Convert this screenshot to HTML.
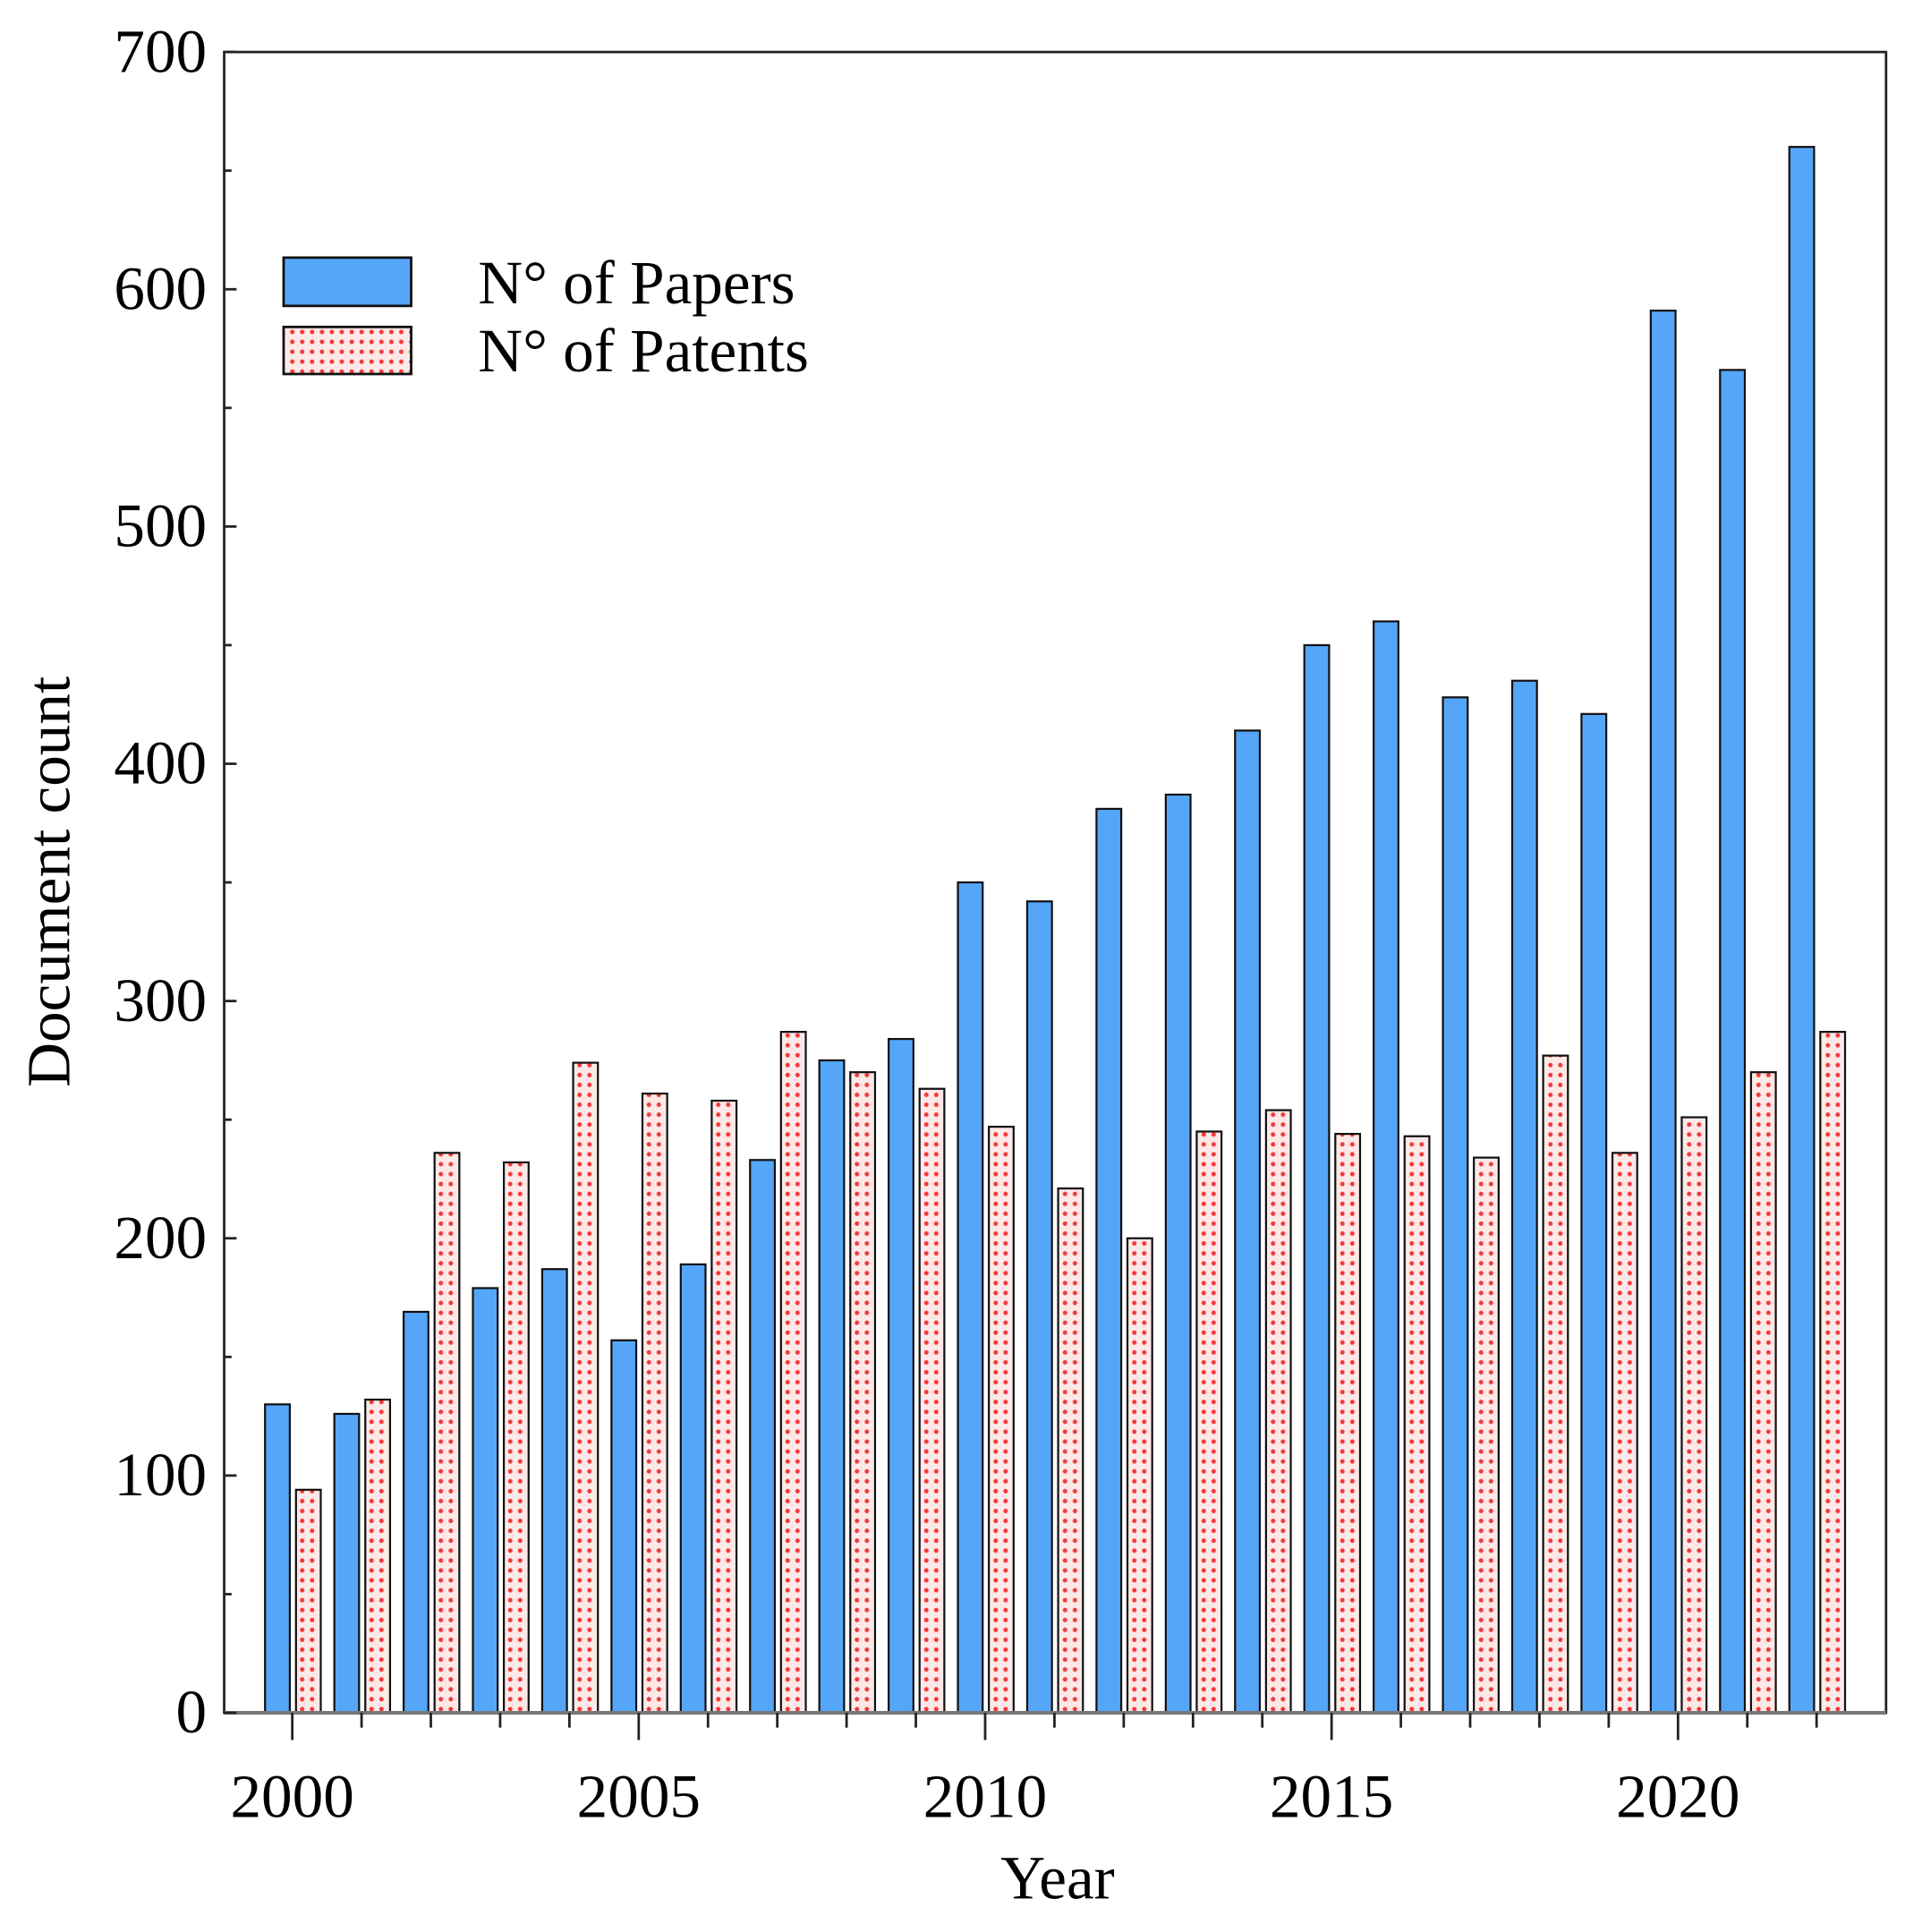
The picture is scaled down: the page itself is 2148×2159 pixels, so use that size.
<!DOCTYPE html>
<html><head><meta charset="utf-8"><style>
html,body{margin:0;padding:0;background:#fff;}
svg{display:block;font-family:"Liberation Serif",serif;}
</style></head>
<body>
<svg id="chart" width="2148" height="2159" viewBox="0 0 1552 1560" xmlns="http://www.w3.org/2000/svg">
<defs>
<pattern id="dots" width="8" height="8" patternUnits="userSpaceOnUse">
<rect width="8" height="8" fill="#fde8e8"/>
<circle cx="4" cy="4" r="1.8" fill="#f23a3a"/>
</pattern>
</defs>
<g id="bars"></g>
<g id="axes"></g>
<text x="0" y="0" transform="translate(56,712) rotate(-90)" text-anchor="middle" font-size="50">Document count</text>
<text x="854" y="1533" text-anchor="middle" font-size="50">Year</text>
<g>
<rect x="229" y="208" width="103" height="39" fill="#55a6f8" stroke="#111" stroke-width="2"/>
<rect x="229" y="264" width="103" height="38" fill="url(#dots)" stroke="#111" stroke-width="2"/>
<text x="386" y="245" font-size="50">N° of Papers</text>
<text x="386" y="300" font-size="50">N° of Patents</text>
</g>
</svg>
<script>
const years = [2000,2001,2002,2003,2004,2005,2006,2007,2008,2009,2010,2011,2012,2013,2014,2015,2016,2017,2018,2019,2020,2021,2022];
const papers = [130,126,169,179,187,157,189,233,275,284,350,342,381,387,414,450,460,428,435,421,591,566,660];
const patents = [94,132,236,232,274,261,258,287,270,263,247,221,200,245,254,244,243,234,277,236,251,270,287];
const yTicks = [0,100,200,300,400,500,600,700];
const xTicks = [2000,2005,2010,2015,2020];

const NS = "http://www.w3.org/2000/svg";
const L=181,R=1523,T=42,B=1383;
const x = y => 236 + (y-2000)*55.95;
const yv = v => B - v*(B-T)/700;
function mk(tag, attrs, parent){const e=document.createElementNS(NS,tag);for(const k in attrs)e.setAttribute(k,attrs[k]);parent.appendChild(e);return e;}
const gb=document.getElementById('bars'), ga=document.getElementById('axes');
years.forEach((yr,i)=>{
  const c=x(yr);
  const p=mk('rect',{x:c-22,y:yv(papers[i]),width:20,height:B-yv(papers[i]),fill:'#55a6f8',stroke:'#111','stroke-width':1.6},gb);
  
  
  const q=mk('rect',{x:c+3,y:yv(patents[i]),width:20,height:B-yv(patents[i]),fill:'url(#dots)',stroke:'#111','stroke-width':1.6},gb);
  
  
});
const frame=mk('rect',{x:L,y:T,width:R-L,height:B-T,fill:'none',stroke:'#222','stroke-width':2},ga);


mk('line',{x1:L,y1:B,x2:R,y2:B,stroke:'#777','stroke-width':3},ga);
yTicks.forEach(v=>{
  mk('line',{x1:L,y1:yv(v),x2:L+10,y2:yv(v),stroke:'#222','stroke-width':2},ga);
  if(v<700) mk('line',{x1:L,y1:yv(v+50),x2:L+6,y2:yv(v+50),stroke:'#222','stroke-width':2},ga);
  const t=mk('text',{x:167,y:yv(v)+16,'text-anchor':'end','font-size':50},ga);
  t.textContent=v;
  
  
});
years.forEach(yr=>{
  const major=xTicks.includes(yr);
  mk('line',{x1:x(yr),y1:B,x2:x(yr),y2:B+(major?22:12),stroke:'#222','stroke-width':2},ga);
});
xTicks.forEach(yr=>{
  const t=mk('text',{x:x(yr),y:1467,'text-anchor':'middle','font-size':50},ga);
  t.textContent=yr;
  
  
});
</script>
</body></html>
